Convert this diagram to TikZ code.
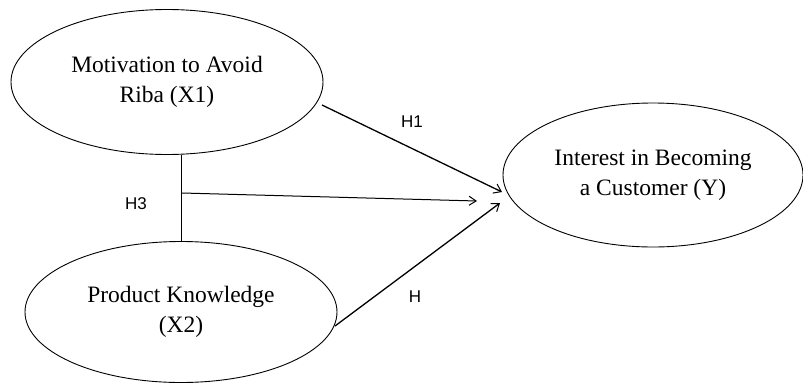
\documentclass[tikz,border=0pt]{standalone}
\usepackage{fontspec}
\setmainfont{Liberation Serif}
\setsansfont{Liberation Sans}
\usetikzlibrary{shapes.geometric,arrows.meta}
\tikzset{
  var/.style={ellipse,draw,line width=0.9pt,inner sep=0pt,align=center,
    font=\fontsize{23.5}{30.5}\selectfont},
  arr/.style={-{Straight Barb[length=7pt,width=10pt,line width=1pt]},line width=1.3pt},
  thinarr/.style={-{Straight Barb[length=7pt,width=9pt,line width=1pt]},line width=1pt},
  hlabel/.style={font=\sffamily\fontsize{17}{20}\selectfont,inner sep=0pt}
}
\begin{document}
\begin{tikzpicture}[x=1pt,y=-1pt]
\useasboundingbox (0,0) rectangle (803,383);
\node[var,minimum width=312pt,minimum height=145pt] (e1) at (167,82) {Motivation to Avoid\\Riba (X1)};
\node[var,minimum width=312pt,minimum height=141pt] (e2) at (181,312) {Product Knowledge\\(X2)};
\node[var,minimum width=300pt,minimum height=144pt] (e3) at (653,175) {Interest in Becoming\\a Customer (Y)};
\coordinate (t1) at (502,192);
\coordinate (t2) at (500,203);
\coordinate (t3) at (477,201);
\coordinate (s3) at (182,193);
\coordinate (s1) at (322,105);
\coordinate (s2) at (335,326);
\draw[line width=1pt] (e1.south -| e2.north) -- (e2.north);
\draw[arr] (s1) -- (t1);
\draw[arr] (s2) -- (t2);
\draw[thinarr] (s3) -- (t3);
\node[hlabel] (h1) at (412,122) {H1};
\node[hlabel] (h3) at (136,204) {H3};
\node[hlabel] (h) at (415,297) {H};
\end{tikzpicture}
\end{document}
